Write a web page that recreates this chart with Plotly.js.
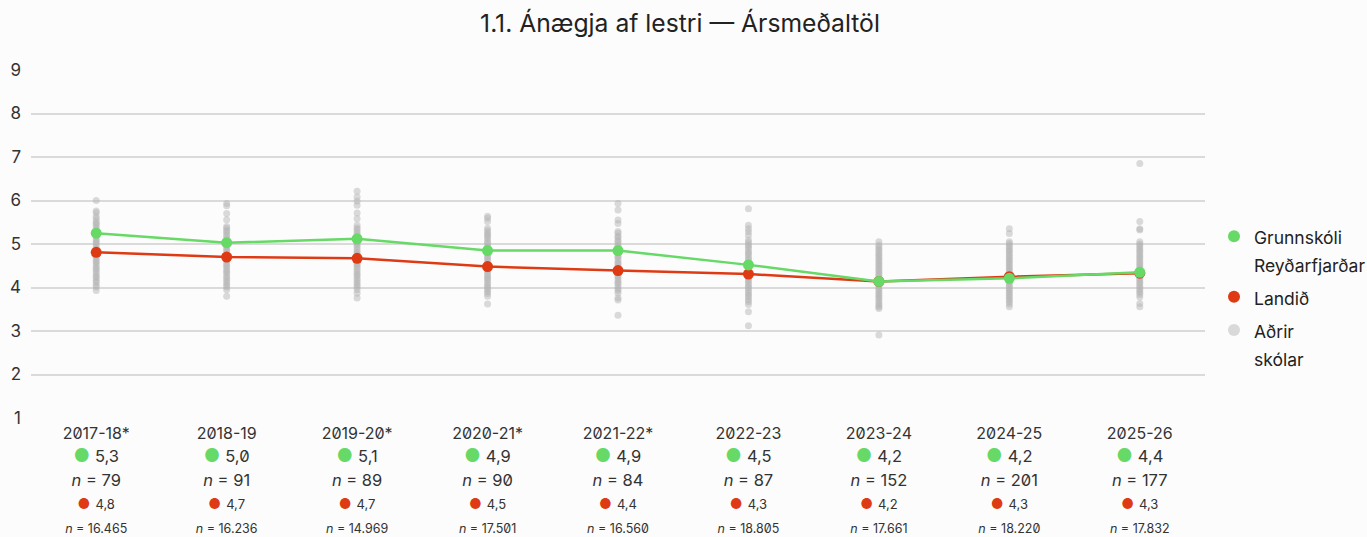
<!DOCTYPE html>
<html>
<head>
<meta charset="utf-8">
<script src="https://cdn.plot.ly/plotly-3.0.1.min.js"></script>
<style>
html,body{margin:0;padding:0;background:#fcfcfc;}
svg text{font-feature-settings:"zero" 1;}
</style>
</head>
<body>
<div id="chart" style="width:1367px;height:537px;"></div>
<script>
// ---- data ----
const years = ['2017-18*','2018-19','2019-20*','2020-21*','2021-22*','2022-23','2023-24','2024-25','2025-26'];
const schoolMean = [5.25, 5.03, 5.12, 4.85, 4.85, 4.52, 4.14, 4.21, 4.35];
const landMean   = [4.81, 4.70, 4.67, 4.48, 4.39, 4.31, 4.14, 4.25, 4.33];
const schoolLbl  = ['5,3','5,0','5,1','4,9','4,9','4,5','4,2','4,2','4,4'];
const landLbl    = ['4,8','4,7','4,7','4,5','4,4','4,3','4,2','4,3','4,3'];
const schoolN    = ['79','91','89','90','84','87','152','201','177'];
const landN      = ['16.465','16.236','14.969','17.501','16.560','18.805','17.661','18.220','17.832'];

const other1718 = [6.00,5.76,5.72,5.63,5.58,5.52,5.47,5.44,5.38,5.33,5.29,5.22,5.18,5.12,5.07,5.03,4.98,4.92,4.88,4.81,4.77,4.72,4.66,4.61,4.57,4.52,4.46,4.42,4.37,4.31,4.26,4.22,4.16,4.12,4.05,4.01,3.93];
const other1819 = [5.93,5.88,5.70,5.56,5.40,5.36,5.31,5.27,5.21,5.16,5.11,5.06,5.01,4.96,4.91,4.86,4.82,4.76,4.71,4.66,4.62,4.56,4.51,4.47,4.41,4.36,4.32,4.26,4.21,4.16,4.11,4.06,4.01,3.95,3.80];
const other1920 = [6.21,6.08,5.98,5.89,5.71,5.58,5.43,5.37,5.33,5.27,5.22,5.17,5.12,5.06,5.02,4.97,4.92,4.86,4.81,4.77,4.71,4.67,4.61,4.56,4.52,4.47,4.42,4.36,4.31,4.27,4.21,4.16,4.11,4.06,4.01,3.95,3.87,3.76];
const other2021 = [5.64,5.59,5.52,5.36,5.31,5.26,5.21,5.17,5.12,5.06,5.02,4.96,4.91,4.87,4.82,4.77,4.71,4.67,4.62,4.56,4.52,4.46,4.41,4.37,4.31,4.26,4.21,4.17,4.11,4.06,4.01,3.96,3.91,3.86,3.80,3.62];
const other2122 = [5.93,5.78,5.55,5.47,5.29,5.25,5.18,5.15,5.08,5.05,4.99,4.94,4.87,4.84,4.78,4.72,4.69,4.63,4.57,4.54,4.48,4.42,4.39,4.33,4.27,4.24,4.18,4.12,4.09,4.03,3.97,3.93,3.87,3.76,3.71,3.36];
const other2223 = [5.81,5.43,5.35,5.28,5.20,5.09,5.04,4.98,4.94,4.89,4.83,4.79,4.74,4.68,4.64,4.58,4.53,4.49,4.43,4.38,4.33,4.29,4.23,4.18,4.14,4.08,4.03,3.99,3.93,3.88,3.83,3.78,3.72,3.67,3.61,3.44,3.12];
const other2324 = [5.05,4.97,4.93,4.88,4.84,4.79,4.74,4.70,4.65,4.61,4.56,4.52,4.47,4.42,4.38,4.33,4.29,4.24,4.19,4.15,4.10,4.06,4.01,3.96,3.92,3.87,3.83,3.78,3.74,3.69,3.64,3.59,3.55,3.52,2.91];
const other2425 = [5.35,5.24,5.05,5.01,4.96,4.92,4.87,4.83,4.78,4.73,4.69,4.64,4.60,4.55,4.50,4.46,4.41,4.37,4.32,4.27,4.23,4.18,4.14,4.09,4.04,4.00,3.95,3.91,3.86,3.81,3.77,3.72,3.67,3.62,3.56];
const other2526 = [6.85,5.52,5.35,5.32,5.05,5.00,4.96,4.91,4.86,4.82,4.77,4.72,4.68,4.63,4.58,4.54,4.49,4.45,4.40,4.35,4.31,4.26,4.21,4.17,4.12,4.08,4.03,3.98,3.93,3.89,3.84,3.78,3.63,3.56];
const others = [other1718,other1819,other1920,other2021,other2122,other2223,other2324,other2425,other2526];

const yTicks = [1,2,3,4,5,6,7,8,9];
const seriesNames = [['Grunnskóli','Reyðarfjarðar'], ['Landið'], ['Aðrir','skólar']];

// ---- styling ----
const GREEN = '#66d966';
const RED = '#de3a14';
const GREY = 'rgba(178,178,178,0.47)';
const FONT = 'Inter, "Noto Sans", sans-serif';

const ox = [], oy = [];
others.forEach((arr, i) => arr.forEach(v => { ox.push(i); oy.push(v); }));

const tickText = years.map((y, i) =>
  `<span style="font-size:16px">${y}</span><br>` +
  `<span style="color:${GREEN};font-size:18px">●</span> <span style="font-size:16.5px">${schoolLbl[i]}</span><br>` +
  `<span style="font-size:16.5px"><i>n</i> = ${schoolN[i]}</span><br>` +
  `<span style="color:${RED};font-size:14px">●</span> <span style="font-size:13px">${landLbl[i]}</span><br>` +
  `<span style="font-size:12.5px"><i>n</i> = ${landN[i]}</span>`
);
const xIdx = years.map((_, i) => i);
const legName = parts => parts.map(p => `<span style="font-size:17.5px">${p}</span>`).join('<br>');

const traces = [
  {x: ox, y: oy, type: 'scatter', mode: 'markers', name: legName(seriesNames[2]), legendgroup: 'c',
   marker: {color: GREY, size: 7}, legendrank: 3, hoverinfo: 'skip'},
  {x: xIdx, y: landMean, type: 'scatter', mode: 'lines', showlegend: false, legendgroup: 'b',
   line: {color: RED, width: 2.5}, hoverinfo: 'skip'},
  {x: xIdx, y: landMean, type: 'scatter', mode: 'markers', name: legName(seriesNames[1]), legendgroup: 'b',
   marker: {color: RED, size: 11}, legendrank: 2},
  {x: xIdx, y: schoolMean, type: 'scatter', mode: 'lines', showlegend: false, legendgroup: 'a',
   line: {color: GREEN, width: 2.5}, hoverinfo: 'skip'},
  {x: xIdx, y: schoolMean, type: 'scatter', mode: 'markers', name: legName(seriesNames[0]), legendgroup: 'a',
   marker: {color: GREEN, size: 11}, legendrank: 1}
];

const layout = {
  width: 1367, height: 537,
  paper_bgcolor: '#fcfcfc', plot_bgcolor: '#fcfcfc',
  font: {family: FONT, color: '#333', size: 16},
  margin: {l: 31, r: 162, t: 70, b: 119},
  title: {text: '1.1. Ánægja af lestri — Ársmeðaltöl', x: 680/1367, xanchor: 'center', xref: 'container',
          y: 1 - 23/537, yanchor: 'middle',
          font: {family: FONT, size: 24.7, color: '#222'}},
  xaxis: {range: [-0.5, 8.5], tickmode: 'array', tickvals: xIdx, ticktext: tickText,
          showgrid: false, zeroline: false, showline: false, ticks: '', ticklabelstandoff: 2,
          tickfont: {family: FONT, size: 18, color: '#333'}, fixedrange: true},
  yaxis: {range: [1, 9], tickmode: 'array', tickvals: yTicks, ticktext: yTicks.map(String),
          showgrid: true, gridcolor: '#dadada', gridwidth: 2, zeroline: false, showline: false,
          ticks: '', ticklabelstandoff: 9, tickfont: {family: FONT, size: 17, color: '#333'}, fixedrange: true},
  showlegend: true,
  legend: {xref: 'container', yref: 'container', x: 1214/1367, xanchor: 'left', y: 1 - 216/537, yanchor: 'top',
           bgcolor: 'rgba(0,0,0,0)', valign: 'top', tracegroupgap: 3,
           font: {family: FONT, size: 21, color: '#222'}, traceorder: 'grouped', itemsizing: 'constant'},
  hovermode: false
};

Plotly.newPlot('chart', traces, layout, {displayModeBar: false, staticPlot: true});
</script>
</body>
</html>
